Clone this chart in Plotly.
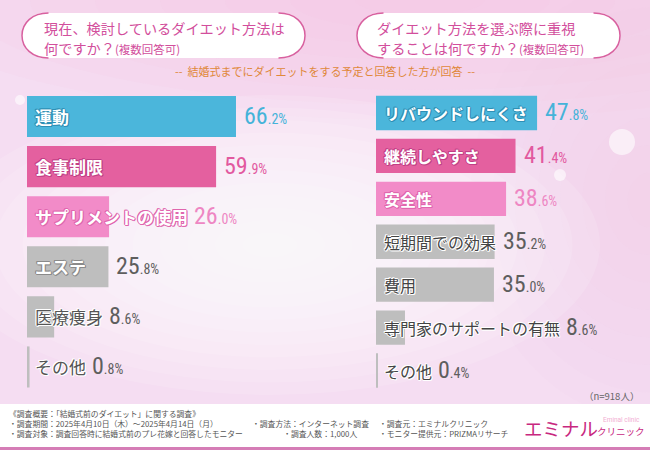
import plotly.graph_objects as go
import plotly.subplots as ms

# 左: 現在、検討しているダイエット方法
left_items = ['運動', '食事制限', 'サプリメントの使用', 'エステ', '医療痩身', 'その他']
left_values = [66.2, 59.9, 26.0, 25.8, 8.6, 0.8]

# 右: ダイエット方法を選ぶ際に重視すること
right_items = ['リバウンドしにくさ', '継続しやすさ', '安全性', '短期間での効果', '費用',
               '専門家のサポートの有無', 'その他']
right_values = [47.8, 41.4, 38.6, 35.2, 35.0, 8.6, 0.4]

BLUE, PINK, LPINK, GRAY = '#4BB6DB', '#E4609F', '#F28BC8', '#BEBEBE'
left_bar_colors = [BLUE, PINK, LPINK, GRAY, GRAY, GRAY]
right_bar_colors = [BLUE, PINK, LPINK, GRAY, GRAY, GRAY, GRAY]
left_val_colors = ['#45B3D9', '#E2599F', '#EE86C3', '#5E5E5E', '#5E5E5E', '#5E5E5E']
right_val_colors = ['#45B3D9', '#E2599F', '#EE86C3', '#5E5E5E', '#5E5E5E', '#5E5E5E', '#5E5E5E']
left_lab_fill = ['#ffffff', '#ffffff', '#ffffff', '#ffffff', '#555555', '#555555']
left_lab_edge = ['#2E8FB5', '#C23F86', '#E066AE', '#8A8A8A', '#ffffff', '#ffffff']
right_lab_fill = ['#ffffff', '#ffffff', '#ffffff', '#444444', '#444444', '#444444', '#444444']
right_lab_edge = ['#2E8FB5', '#C23F86', '#E066AE', '#ffffff', '#ffffff', '#ffffff', '#ffffff']

W, H = 650, 450
JP = 'Noto Sans CJK JP'
NUM = 'Liberation Sans Narrow, Arial Narrow, Roboto Condensed, Roboto, sans-serif'

LEFT_DOM = [27 / W, (27 + 315.7) / W]
RIGHT_DOM = [376 / W, (376 + 269.6) / W]
Y_DOM = [(H - 392) / H, (H - 91.5) / H]
LEFT_RANGE, RIGHT_RANGE = 100, 80

fig = ms.make_subplots(rows=1, cols=2)

fig.add_trace(go.Bar(x=left_values, y=left_items, orientation='h', width=0.82,
                     marker=dict(color=left_bar_colors, line=dict(width=0)),
                     hoverinfo='skip', showlegend=False), row=1, col=1)
fig.add_trace(go.Bar(x=right_values, y=right_items, orientation='h', width=0.8,
                     marker=dict(color=right_bar_colors, line=dict(width=0)),
                     hoverinfo='skip', showlegend=False), row=1, col=2)


def outline(c):
    return f'1px 0 0 {c}, -1px 0 0 {c}, 0 1px 0 {c}, 0 -1px 0 {c}, 1px 1px 0 {c}, -1px -1px 0 {c}'


def value_text(v):
    s = f'{v:.1f}'
    a, b = s.split('.')
    return f"{a}<span style='font-size:14px'>.{b}%</span>"


anns = []


def add_rows(items, values, xref, yref, dom, rng, size, fills, edges, vcolors):
    pxper = W * (dom[1] - dom[0]) / rng
    for i, (cat, v) in enumerate(zip(items, values)):
        anns.append(dict(x=0, y=cat, xref=xref, yref=yref, xanchor='left', yanchor='middle',
                         xshift=6, text=cat, showarrow=False,
                         font=dict(family=JP, size=size, color=fills[i], shadow=outline(edges[i]),
                                   weight='bold' if fills[i] == '#ffffff' else 'normal')))
        bar_px = v * pxper
        lab_px = 6 + len(cat) * size
        shift = lab_px + 6 if lab_px > bar_px else bar_px + 6
        anns.append(dict(x=0, y=cat, xref=xref, yref=yref, xanchor='left', yanchor='middle',
                         xshift=shift, yshift=1, text=value_text(v), showarrow=False,
                         font=dict(family=NUM, size=24, color=vcolors[i])))


add_rows(left_items, left_values, 'x', 'y', LEFT_DOM, LEFT_RANGE, 17,
         left_lab_fill, left_lab_edge, left_val_colors)
add_rows(right_items, right_values, 'x2', 'y2', RIGHT_DOM, RIGHT_RANGE, 16,
         right_lab_fill, right_lab_edge, right_val_colors)


def px(x, y):
    return x / W, 1 - y / H


def T(x, y, text, size, color, anchor='left', family=JP):
    px_, py_ = px(x, y)
    anns.append(dict(x=px_, y=py_, xref='paper', yref='paper', xanchor=anchor, yanchor='middle',
                     align='left', text=text, showarrow=False,
                     font=dict(family=family, size=size, color=color)))


TITLE = '#D24E9C'
small = "<span style='font-size:11.5px'>(複数回答可)</span>"
T(42, 27.5, '現在、検討しているダイエット方法は', 14.2, TITLE)
T(42, 48, '何ですか？' + small, 14.2, TITLE)
T(375, 27.5, 'ダイエット方法を選ぶ際に重視', 14.2, TITLE)
T(375, 48, 'することは何ですか？' + small, 14.2, TITLE)
T(325, 71, '--  結婚式までにダイエットをする予定と回答した方が回答  --', 11, '#E0883A', 'center')
T(641, 396, '（n=918人）', 9.5, '#666666', 'right')

# 調査概要
FT = '#555555'
FS = 7.8
T(7, 423, '《調査概要：「結婚式前のダイエット」に関する調査》<br>'
          '・調査期間：2025年4月10日（木）～2025年4月14日（月）<br>'
          '・調査対象：調査回答時に結婚式前のプレ花嫁と回答したモニター', FS, FT)
T(250, 423, '　<br>・調査方法：インターネット調査<br>　　　　・調査人数：1,000人', FS, FT)
T(377, 423, '　<br>・調査元：エミナルクリニック<br>・モニター提供元：PRIZMAリサーチ', FS, FT)

T(522, 428, 'エミナル', 18.5, '#C8287F')
T(595, 431, 'クリニック', 9.5, '#C8287F')
T(601, 420, 'Eminal clinic', 6.5, '#F2AED2', family='Roboto')

# 背景
shapes = [
    dict(type='rect', xref='paper', yref='paper', x0=0, x1=1, y0=0, y1=1,
         fillcolor='#F5DDF2', line=dict(width=0), layer='below'),
]
for cx, cy, rx, ry, col, n, op in [(420, 0, 520, 120, '#F7C2E2', 8, 0.1),
                                   (650, 200, 180, 220, '#F7C8E6', 8, 0.08),
                                   (270, 245, 330, 150, '#ffffff', 12, 0.13)]:
    for k in range(n):
        f = 1 - k / n
        x0, y0 = px(cx - rx * f, cy - ry * f)
        x1, y1 = px(cx + rx * f, cy + ry * f)
        shapes.append(dict(type='circle', xref='paper', yref='paper', x0=x0, x1=x1, y0=y1, y1=y0,
                           fillcolor=col, opacity=op, line=dict(width=0), layer='below'))
for cx, cy, r in [(622, 142, 13), (560, 175, 6), (20, 100, 5)]:
    x0, y0 = px(cx - r, cy - r)
    x1, y1 = px(cx + r, cy + r)
    shapes.append(dict(type='circle', xref='paper', yref='paper', x0=x0, x1=x1, y0=y1, y1=y0,
                       fillcolor='#ffffff', opacity=0.6, line=dict(width=0), layer='below'))

# フッター
shapes.append(dict(type='rect', xref='paper', yref='paper', x0=0, x1=1, y0=0, y1=1 - 404 / H,
                   fillcolor='#ffffff', line=dict(width=0), layer='below'))
shapes.append(dict(type='rect', xref='paper', yref='paper', x0=0, x1=1, y0=0, y1=3 / H,
                   fillcolor='#D57DB6', line=dict(width=0), layer='below'))


# 見出しの吹き出し
def pill(x0, x1, y0, y1):
    r = (y1 - y0) / 2
    k = 0.5523 * r
    xa, xb = x0 + r, x1 - r
    ym = (y0 + y1) / 2

    def p(x, y):
        a, b = px(x, y)
        return f'{a:.5f},{b:.5f}'
    body = (f'M {p(xa, y0)} L {p(xb, y0)} C {p(xb + k, y0)} {p(x1, ym - k)} {p(x1, ym)} '
            f'C {p(x1, ym + k)} {p(xb + k, y1)} {p(xb, y1)} L {p(xa, y1)} '
            f'C {p(xa - k, y1)} {p(x0, ym + k)} {p(x0, ym)} C {p(x0, ym - k)} {p(xa - k, y0)} {p(xa, y0)} Z')
    left = (f'M {p(xa + 4, y0)} C {p(xa - k, y0)} {p(x0, ym - k)} {p(x0, ym)} '
            f'C {p(x0, ym + k)} {p(xa - k, y1)} {p(xa + 4, y1)}')
    right = (f'M {p(xb - 4, y0)} C {p(xb + k, y0)} {p(x1, ym - k)} {p(x1, ym)} '
             f'C {p(x1, ym + k)} {p(xb + k, y1)} {p(xb - 4, y1)}')
    return [dict(type='path', xref='paper', yref='paper', path=body, fillcolor='#ffffff',
                 line=dict(width=0), layer='below'),
            dict(type='path', xref='paper', yref='paper', path=left,
                 line=dict(color='#D8609F', width=1.5), layer='below'),
            dict(type='path', xref='paper', yref='paper', path=right,
                 line=dict(color='#D8609F', width=1.5), layer='below')]


shapes += pill(22, 305, 13, 58)
shapes += pill(357, 620, 13, 58)

fig.update_layout(width=W, height=H, margin=dict(l=0, r=0, t=0, b=0),
                  paper_bgcolor='#ffffff', plot_bgcolor='rgba(0,0,0,0)',
                  shapes=shapes, annotations=anns, showlegend=False,
                  xaxis=dict(domain=LEFT_DOM, range=[0, LEFT_RANGE], visible=False, fixedrange=True),
                  xaxis2=dict(domain=RIGHT_DOM, range=[0, RIGHT_RANGE], visible=False, fixedrange=True),
                  yaxis=dict(domain=Y_DOM, range=[5.5, -0.5], visible=False, fixedrange=True),
                  yaxis2=dict(domain=Y_DOM, range=[6.5, -0.5], visible=False, fixedrange=True))

fig.write_html('out.html', config={'displayModeBar': False},
               post_script="document.body.style.margin='0';")
